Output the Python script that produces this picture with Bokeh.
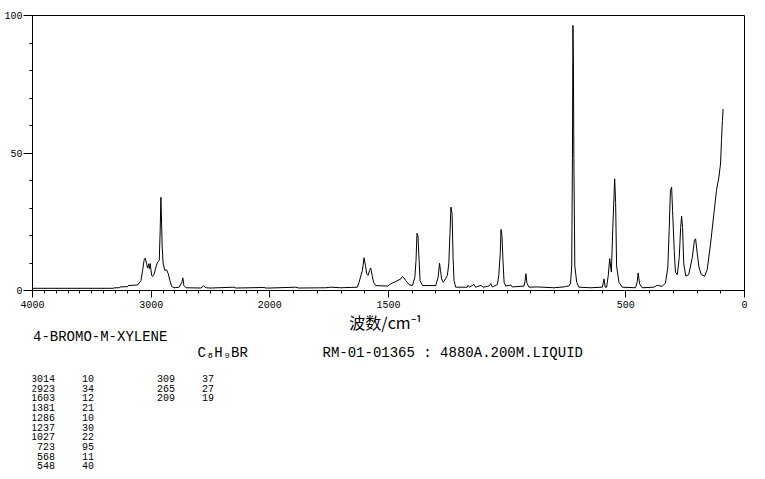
from bokeh.plotting import figure
from bokeh.models import FixedTicker, Range1d
from bokeh.layouts import column
from bokeh.core.properties import value
from bokeh.embed import file_html
from bokeh.resources import INLINE

# ---------------- data ----------------
wavenumber = [4000, 3322, 3305, 3269, 3263, 3198, 3193, 3114, 3086, 3072,
              3059, 3050, 3038, 3030, 3021, 3016, 3008, 2996, 2988, 2974,
              2960, 2946, 2932, 2924, 2918, 2912, 2907, 2899, 2884, 2870,
              2856, 2842, 2828, 2806, 2764, 2741, 2733, 2724, 2707, 2581,
              2558, 2539, 2497, 2303, 2286, 2050, 2034, 2000, 1891, 1878,
              1764, 1743, 1701, 1631, 1624, 1610, 1603, 1597, 1592, 1586,
              1580, 1575, 1569, 1563, 1554, 1504, 1491, 1469, 1448, 1441,
              1435, 1427, 1413, 1399, 1389, 1384, 1380, 1376, 1371, 1367,
              1357, 1301, 1291, 1285, 1281, 1276, 1269, 1260, 1252, 1246,
              1241, 1237, 1232, 1228, 1224, 1217, 1168, 1165, 1159, 1145,
              1140, 1133, 1109, 1102, 1077, 1069, 1062, 1041, 1035, 1029,
              1026, 1022, 1018, 1013, 1006, 985, 978, 929, 925, 921,
              917, 908, 873, 803, 761, 754, 740, 733, 728, 725,
              723, 721, 719, 715, 707, 698, 648, 599, 592, 587,
              581, 578, 574, 568, 561, 555, 547, 543, 539, 529,
              515, 459, 452, 448, 442, 431, 382, 368, 347, 333,
              323, 317, 312, 307, 303, 296, 291, 283, 275, 269,
              265, 261, 256, 247, 235, 220, 211, 206, 199, 192,
              182, 168, 157, 143, 129, 118, 108, 101, 97, 93,
              90]
intensity = [0.8, 0.8, 1.0, 1.0, 1.3, 1.4, 1.8, 2.0, 3.6, 7.3,
             11.2, 11.8, 9.7, 8.2, 9.7, 7.9, 9.8, 5.5, 5.1, 6.1,
             8.5, 10.3, 10.9, 21.8, 33.9, 24.2, 15.8, 9.7, 7.3, 7.5,
             6.1, 3.6, 1.5, 1.0, 1.2, 3.0, 4.6, 1.8, 1.0, 0.9,
             1.7, 1.0, 0.9, 1.2, 0.9, 1.1, 0.9, 0.9, 1.2, 0.9,
             1.0, 1.2, 1.0, 1.2, 3.0, 7.3, 11.9, 9.1, 6.1, 5.5,
             7.3, 8.2, 5.5, 3.0, 1.8, 1.6, 2.4, 3.3, 4.2, 5.1,
             4.6, 3.6, 2.1, 1.8, 4.8, 10.9, 20.8, 20.0, 10.9, 3.6,
             1.8, 1.8, 4.8, 9.9, 7.3, 4.2, 3.0, 4.2, 5.5, 9.7,
             20.6, 30.3, 27.9, 12.1, 3.6, 1.2, 1.2, 1.9, 1.2, 1.9,
             2.2, 1.2, 1.9, 1.2, 1.6, 2.5, 1.3, 2.2, 5.8, 13.9,
             22.2, 20.0, 11.5, 3.0, 1.6, 2.0, 1.3, 1.6, 3.3, 6.1,
             2.7, 1.2, 1.3, 1.0, 1.3, 1.5, 1.6, 2.7, 9.0, 48.0,
             96.4, 84.8, 48.5, 9.0, 3.0, 1.2, 1.0, 1.2, 4.2, 1.2,
             1.2, 3.0, 5.5, 11.6, 6.7, 22.5, 40.6, 32.0, 9.0, 3.0,
             1.2, 1.0, 3.2, 6.4, 2.4, 1.0, 1.2, 1.9, 1.5, 2.7,
             8.5, 23.0, 36.4, 37.6, 29.0, 14.5, 6.7, 5.8, 12.0, 23.0,
             27.0, 23.0, 9.7, 5.2, 5.8, 12.0, 18.2, 18.8, 13.4, 8.5,
             5.8, 5.2, 7.7, 17.0, 27.9, 36.4, 41.2, 46.0, 54.5, 61.8,
             66.0]

x_tick_values = [4000, 3000, 2000, 1500, 500, 0]
x_tick_labels = ["4000", "3000", "2000", "1500", "500", "0"]
y_tick_values = [0, 50, 100]
y_minor_values = [10, 20, 30, 40, 60, 70, 80, 90]

compound_name = "4-BROMO-M-XYLENE"
formula = "C\u2088H\u2089BR"
sample_info = "RM-01-01365 : 4880A.200M.LIQUID"
x_title = "波数/cm\u207b\u00b9"

peak_wn_a = [3014, 2923, 1603, 1381, 1286, 1237, 1027, 723, 568, 548]
peak_int_a = [10, 34, 12, 21, 10, 30, 22, 95, 11, 40]
peak_wn_b = [309, 265, 209]
peak_int_b = [37, 27, 19]


# piecewise axis: 4000-2000 compressed by half, 2000-0 full scale
def to_u(wn):
    if wn >= 2000:
        return (4000 - wn) / 2
    return 1000 + (2000 - wn)


def to_u_int(wn):
    return int(round(to_u(wn)))


u = [to_u(w) for w in wavenumber]

TOTAL_W = 760
BORDER_L, BORDER_T, BORDER_R, BORDER_B = 32, 15, 16, 20
FRAME_W = TOTAL_W - BORDER_L - BORDER_R   # 712
FRAME_H = 275
TOP_H = BORDER_T + FRAME_H + BORDER_B     # 310
BOTTOM_H = 478 - TOP_H

MONO = "Liberation Mono"

p = figure(width=TOTAL_W, height=TOP_H,
           x_range=(0, 3000), y_range=(0, 100),
           output_backend="svg", toolbar_location=None,
           min_border_left=BORDER_L, min_border_top=BORDER_T,
           min_border_right=BORDER_R, min_border_bottom=BORDER_B,
           background_fill_color="white", border_fill_color="white")

p.line(u, intensity, line_color="black", line_width=1)

p.grid.visible = False
p.outline_line_color = "black"
p.outline_line_alpha = 1.0
p.outline_line_width = 1

xa = p.xaxis[0]
xa.ticker = FixedTicker(ticks=[to_u_int(w) for w in x_tick_values],
                        minor_ticks=[to_u_int(w) for w in range(100, 4000, 100)])
xa.major_label_overrides = {to_u_int(w): lab for w, lab in zip(x_tick_values, x_tick_labels)}
xa.major_tick_out = 7
xa.major_tick_in = 0
xa.minor_tick_out = 3
xa.minor_tick_in = 0
xa.major_label_standoff = 3
xa.major_label_text_font = MONO
xa.major_label_text_font_size = "10px"
xa.major_label_text_color = "black"
xa.axis_line_color = "black"
xa.major_tick_line_color = "black"
xa.minor_tick_line_color = "black"

ya = p.yaxis[0]
ya.ticker = FixedTicker(ticks=y_tick_values, minor_ticks=y_minor_values)
ya.major_tick_out = 9
ya.major_tick_in = 0
ya.minor_tick_out = 3
ya.minor_tick_in = 0
ya.major_label_standoff = 1
ya.major_label_text_font = MONO
ya.major_label_text_font_size = "10px"
ya.major_label_text_color = "black"
ya.axis_line_color = "black"
ya.major_tick_line_color = "black"
ya.minor_tick_line_color = "black"

# ---------------- text block below the chart ----------------
# the column layout aligns this panel's frame with the chart frame,
# so its x range is given in page pixels of that frame span (y: page pixels, down)
q = figure(width=TOTAL_W, height=BOTTOM_H,
           x_range=Range1d(BORDER_L, TOTAL_W - BORDER_R),
           y_range=Range1d(TOP_H + BOTTOM_H, TOP_H),
           x_axis_location=None, y_axis_location=None,
           output_backend="svg", toolbar_location=None,
           min_border=0, min_border_left=0, min_border_right=0,
           min_border_top=0, min_border_bottom=0,
           background_fill_color="white", border_fill_color="white")
q.grid.visible = False
q.outline_line_color = None


def put(xs, ys, texts, size, font=MONO, align="left"):
    q.text(x=xs, y=ys, text=texts, text_font=value(font), text_font_size=value(size),
           text_color="black", text_align=align, text_baseline="middle")


put([385], [321], [x_title], "16px", font="Noto Sans CJK SC", align="center")
put([32.5], [336], [compound_name], "14px")
put([197], [352], [formula], "14px")
put([322], [352], [sample_info], "14px")

ROW0 = 378
ROW_STEP = 9.72
rows_a = [ROW0 + i * ROW_STEP for i in range(len(peak_wn_a))]
rows_b = [ROW0 + i * ROW_STEP for i in range(len(peak_wn_b))]
put([54.5] * len(rows_a), rows_a, [str(w) for w in peak_wn_a], "10px", align="right")
put([93.5] * len(rows_a), rows_a, [str(v) for v in peak_int_a], "10px", align="right")
put([174.5] * len(rows_b), rows_b, [str(w) for w in peak_wn_b], "10px", align="right")
put([213.5] * len(rows_b), rows_b, [str(v) for v in peak_int_b], "10px", align="right")

layout = column(p, q, spacing=0)
open("out.html", "w").write(file_html(layout, INLINE))
